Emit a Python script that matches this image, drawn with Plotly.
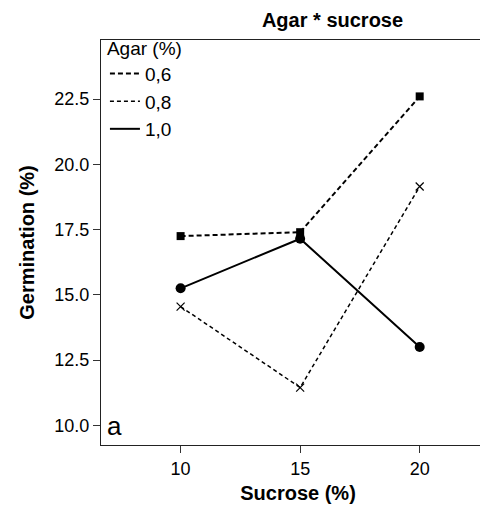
import plotly.graph_objects as go

sucrose = [10, 15, 20]
agar_levels = ["0,6", "0,8", "1,0"]
germ_06 = [17.25, 17.4, 22.6]
germ_08 = [14.55, 11.45, 19.15]
germ_10 = [15.25, 17.15, 13.0]

FONT = "Liberation Sans, Arial, sans-serif"
fig = go.Figure()

styles = [
    (germ_06, dict(color="black", width=2, dash="5px,3px"), dict(symbol="square", size=8, color="black")),
    (germ_08, dict(color="black", width=1.5, dash="4px,3px"), dict(symbol="x-thin", size=8, color="black", line=dict(width=1.2, color="black"))),
    (germ_10, dict(color="black", width=2), dict(symbol="circle", size=10, color="black")),
]

for name, (vals, line, marker) in zip(agar_levels, styles):
    fig.add_trace(go.Scatter(x=sucrose, y=vals, mode="lines+markers", line=line,
                             marker=marker, showlegend=False, name=name))
for name, (vals, line, marker) in zip(agar_levels, styles):
    fig.add_trace(go.Scatter(x=[None], y=[None], mode="lines", line=line,
                             name=name, showlegend=True))

fig.update_layout(
    width=488, height=511,
    margin=dict(l=93, r=1, t=32, b=74),
    plot_bgcolor="white", paper_bgcolor="white",
    font=dict(family=FONT, size=18, color="black"),
    title=dict(text="<b>Agar * sucrose</b>", x=0.665, xanchor="center", y=0.976, yanchor="middle",
               font=dict(size=20, family=FONT)),
    showlegend=True,
    legend=dict(x=0.01, y=1.025, xanchor="left", yanchor="top", bgcolor="rgba(0,0,0,0)",
                title=dict(text="Agar (%)", font=dict(size=19)), font=dict(size=19),
                itemwidth=30, tracegroupgap=0),
    xaxis=dict(range=[6.67, 23.15], tickvals=sucrose, ticktext=[str(v) for v in sucrose],
               ticks="outside", ticklen=7, tickcolor="#333", showgrid=False, zeroline=False,
               showline=True, linecolor="#222", linewidth=1, mirror=True,
               title=dict(text="<b>Sucrose (%)</b>", font=dict(size=20), standoff=8),
               tickfont=dict(size=18)),
    yaxis=dict(range=[9.25, 24.76], tickvals=[10, 12.5, 15, 17.5, 20, 22.5],
               ticktext=["10.0", "12.5", "15.0", "17.5", "20.0", "22.5"],
               ticks="outside", ticklen=7, tickcolor="#333", showgrid=False, zeroline=False,
               showline=True, linecolor="#222", linewidth=1, mirror=True,
               title=dict(text="<b>Germination (%)</b>", font=dict(size=20), standoff=14),
               tickfont=dict(size=18)),
    annotations=[dict(text="a", xref="paper", yref="paper", x=0.01, y=0.005, xanchor="left",
                      yanchor="bottom", showarrow=False, font=dict(size=26, family=FONT))],
)

fig.write_html("out.html")
